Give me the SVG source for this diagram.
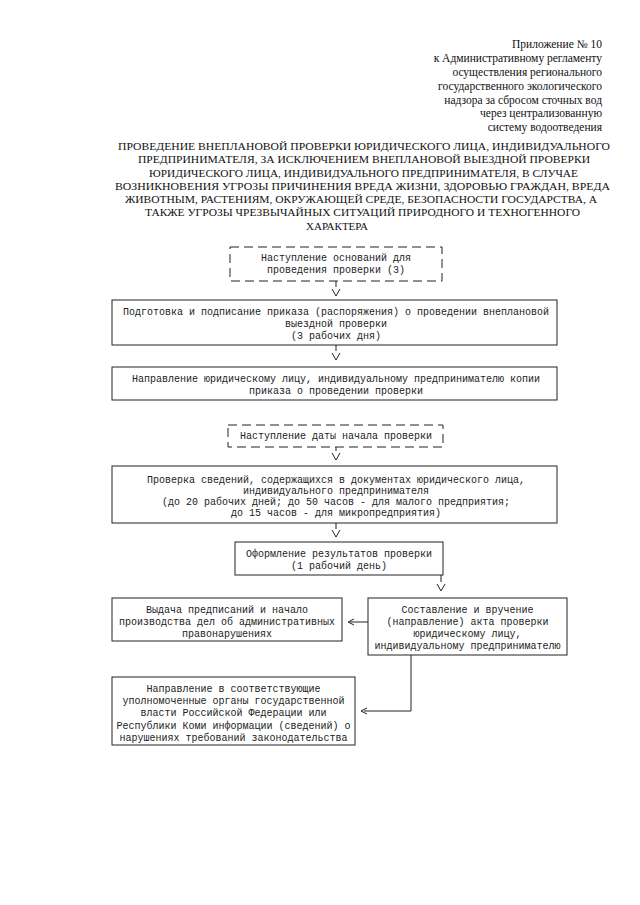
<svg xmlns="http://www.w3.org/2000/svg" width="640" height="905" viewBox="0 0 640 905">
<style>
  .hdr { font-family: "Liberation Serif", "Times New Roman", serif; font-size: 11.5px; fill: #111; text-anchor: end; }
  .ttl { font-family: "Liberation Serif", "Times New Roman", serif; font-size: 11px; fill: #111; text-anchor: middle; }
  .box { fill: #fff; stroke: #222; stroke-width: 1; }
  .dash { fill: #fff; stroke: #222; stroke-width: 1; stroke-dasharray: 9 5; }
  .t { font-family: "Liberation Mono", "Courier New", monospace; font-size: 10px; fill: #222; text-anchor: middle; }
  .con { fill: none; stroke: #222; stroke-width: 1; }
</style>
<rect width="640" height="905" fill="#fff"/>
<g id="header">
  <text class="hdr" x="602" y="48">Приложение № 10</text>
  <text class="hdr" x="602" y="62">к Административному регламенту</text>
  <text class="hdr" x="602" y="76">осуществления регионального</text>
  <text class="hdr" x="602" y="90">государственного экологического</text>
  <text class="hdr" x="602" y="104">надзора за сбросом сточных вод</text>
  <text class="hdr" x="602" y="117">через централизованную</text>
  <text class="hdr" x="602" y="131">систему водоотведения</text>
</g>
<g id="title">
  <text class="ttl" x="364" y="150" textLength="492" lengthAdjust="spacingAndGlyphs">ПРОВЕДЕНИЕ ВНЕПЛАНОВОЙ ПРОВЕРКИ ЮРИДИЧЕСКОГО ЛИЦА, ИНДИВИДУАЛЬНОГО</text>
  <text class="ttl" x="364" y="163.3" textLength="452" lengthAdjust="spacingAndGlyphs">ПРЕДПРИНИМАТЕЛЯ, ЗА ИСКЛЮЧЕНИЕМ ВНЕПЛАНОВОЙ ВЫЕЗДНОЙ ПРОВЕРКИ</text>
  <text class="ttl" x="363.5" y="176.5" textLength="429" lengthAdjust="spacingAndGlyphs">ЮРИДИЧЕСКОГО ЛИЦА, ИНДИВИДУАЛЬНОГО ПРЕДПРИНИМАТЕЛЯ, В СЛУЧАЕ</text>
  <text class="ttl" x="362.5" y="189.8" textLength="495" lengthAdjust="spacingAndGlyphs">ВОЗНИКНОВЕНИЯ УГРОЗЫ ПРИЧИНЕНИЯ ВРЕДА ЖИЗНИ, ЗДОРОВЬЮ ГРАЖДАН, ВРЕДА</text>
  <text class="ttl" x="361" y="203" textLength="472" lengthAdjust="spacingAndGlyphs">ЖИВОТНЫМ, РАСТЕНИЯМ, ОКРУЖАЮЩЕЙ СРЕДЕ, БЕЗОПАСНОСТИ ГОСУДАРСТВА, А</text>
  <text class="ttl" x="362.5" y="216.3" textLength="435" lengthAdjust="spacingAndGlyphs">ТАКЖЕ УГРОЗЫ ЧРЕЗВЫЧАЙНЫХ СИТУАЦИЙ ПРИРОДНОГО И ТЕХНОГЕННОГО</text>
  <text class="ttl" x="337" y="229.6">ХАРАКТЕРА</text>
</g>
<g id="connectors">
  <path class="con" d="M336,281 V287 M332,289 L336,296 L340,289"/>
  <path class="con" d="M336,345 V351 M332,353 L336,360 L340,353"/>
  <path class="con" d="M336,447 V451 M332,453 L336,460 L340,453"/>
  <path class="con" d="M336,523 V529 M332,530 L336,537 L340,530"/>
  <path class="con" d="M441,575 V582 M437,584 L441,591 L445,584"/>
  <path class="con" d="M368,622 H350 M354,619 L348,622 L354,625"/>
  <path class="con" d="M411,655 V711 H364 M367,708 L361,711 L367,714"/>
</g>
<g id="n1">
  <rect class="dash" x="230" y="247" width="212" height="34"/>
  <text class="t" x="336" y="261">Наступление оснований для</text>
  <text class="t" x="336" y="273">проведения проверки (3)</text>
</g>
<g id="n2">
  <rect class="box" x="112" y="300" width="445" height="45"/>
  <text class="t" x="336" y="315">Подготовка и подписание приказа (распоряжения) о проведении внеплановой</text>
  <text class="t" x="336" y="327">выездной проверки</text>
  <text class="t" x="336" y="339">(3 рабочих дня)</text>
</g>
<g id="n3">
  <rect class="box" x="112" y="367" width="445" height="33"/>
  <text class="t" x="336" y="382">Направление юридическому лицу, индивидуальному предпринимателю копии</text>
  <text class="t" x="336" y="394">приказа о проведении проверки</text>
</g>
<g id="n4">
  <rect class="dash" x="228" y="425" width="215" height="22"/>
  <text class="t" x="336" y="439">Наступление даты начала проверки</text>
</g>
<g id="n5">
  <rect class="box" x="112" y="466" width="445" height="57"/>
  <text class="t" x="336" y="483">Проверка сведений, содержащихся в документах юридического лица,</text>
  <text class="t" x="336" y="494">индивидуального предпринимателя</text>
  <text class="t" x="336" y="505">(до 20 рабочих дней; до 50 часов - для малого предприятия;</text>
  <text class="t" x="336" y="516">до 15 часов - для микропредприятия)</text>
</g>
<g id="n6">
  <rect class="box" x="235" y="542" width="208" height="33"/>
  <text class="t" x="339" y="557">Оформление результатов проверки</text>
  <text class="t" x="339" y="569">(1 рабочий день)</text>
</g>
<g id="n7">
  <rect class="box" x="368" y="598" width="199" height="57"/>
  <text class="t" x="467.5" y="613">Составление и вручение</text>
  <text class="t" x="467.5" y="625">(направление) акта проверки</text>
  <text class="t" x="467.5" y="637">юридическому лицу,</text>
  <text class="t" x="467.5" y="649">индивидуальному предпринимателю</text>
</g>
<g id="n8">
  <rect class="box" x="112" y="598" width="230" height="43"/>
  <text class="t" x="227" y="613">Выдача предписаний и начало</text>
  <text class="t" x="227" y="625">производства дел об административных</text>
  <text class="t" x="227" y="637">правонарушениях</text>
</g>
<g id="n9">
  <rect class="box" x="112" y="677" width="243" height="68"/>
  <text class="t" x="233.5" y="692">Направление в соответствующие</text>
  <text class="t" x="233.5" y="704">уполномоченные органы государственной</text>
  <text class="t" x="233.5" y="716">власти Российской Федерации или</text>
  <text class="t" x="233.5" y="729">Республики Коми информации (сведений) о</text>
  <text class="t" x="233.5" y="741">нарушениях требований законодательства</text>
</g>
</svg>
